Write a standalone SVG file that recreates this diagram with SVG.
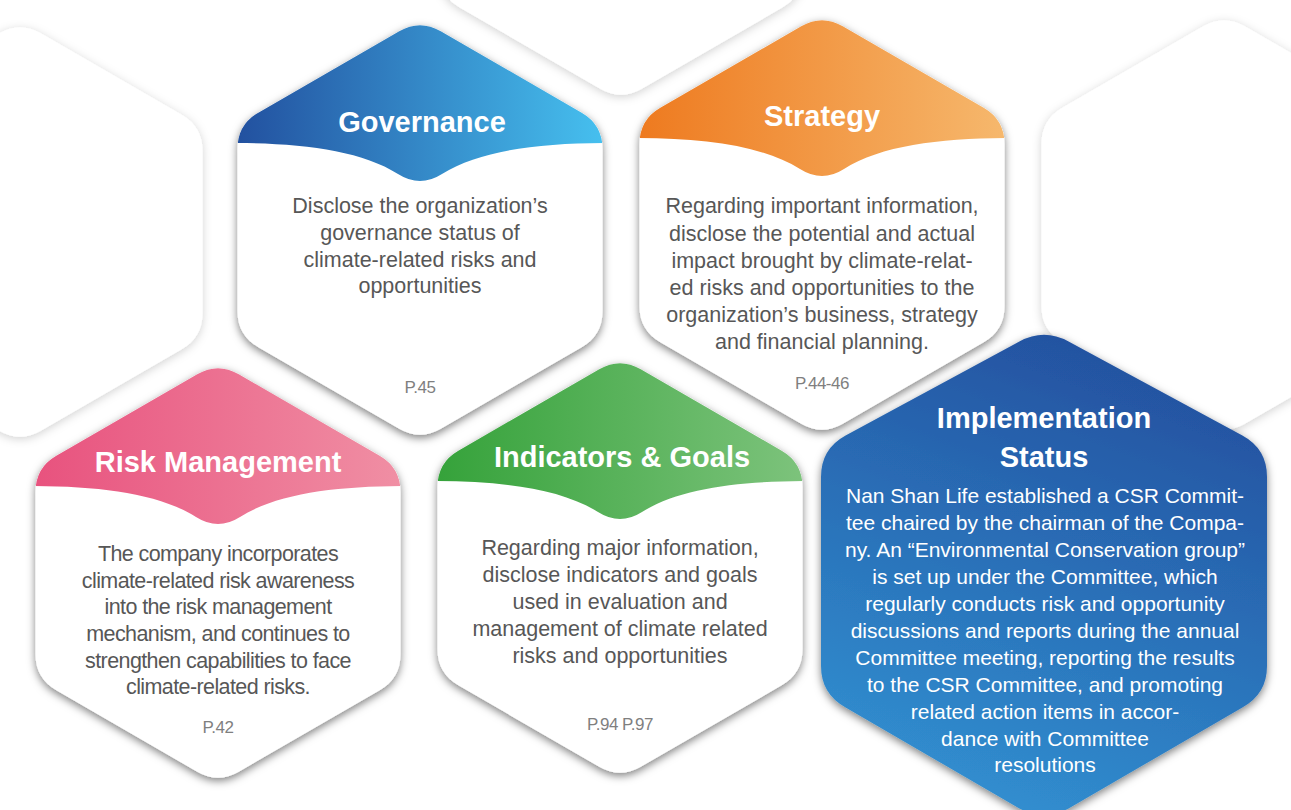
<svg xmlns="http://www.w3.org/2000/svg" xmlns:xlink="http://www.w3.org/1999/xlink" width="1291" height="810" viewBox="0 0 1291 810">
<defs>
<style>
.card{fill:#ffffff;filter:url(#sh);}
.bgcard{fill:#ffffff;filter:url(#shLight);}
.title{font-family:"Liberation Sans",Arial,sans-serif;font-weight:bold;font-size:29px;fill:#ffffff;text-anchor:middle;}
.body{font-family:"Liberation Sans",Arial,sans-serif;font-size:21.5px;fill:#575757;text-anchor:middle;}
.page{font-family:"Liberation Sans",Arial,sans-serif;font-size:17px;fill:#7f7f7f;text-anchor:middle;letter-spacing:-0.5px;}
.wbody{font-family:"Liberation Sans",Arial,sans-serif;font-size:21px;fill:#ffffff;text-anchor:middle;}
</style>
<filter id="sh" x="-20%" y="-20%" width="140%" height="140%">
<feDropShadow dx="0" dy="3" stdDeviation="4.5" flood-color="#000000" flood-opacity="0.5"/>
</filter>
<filter id="shLight" x="-20%" y="-20%" width="140%" height="140%">
<feDropShadow dx="0" dy="2" stdDeviation="5" flood-color="#000000" flood-opacity="0.18"/>
</filter>
<path id="hex" d="M20.8,-198.7 L161.7,-117.35 Q182.5,-105.35 182.5,-81.35 L182.5,81.35 Q182.5,105.35 161.7,117.35 L20.8,198.7 Q0,210.7 -20.8,198.7 L-161.7,117.35 Q-182.5,105.35 -182.5,81.35 L-182.5,-81.35 Q-182.5,-105.35 -161.7,-117.35 L-20.8,-198.7 Q0,-210.7 20.8,-198.7 Z"/>
<clipPath id="hexclip"><path d="M20.8,-198.7 L161.7,-117.35 Q182.5,-105.35 182.5,-81.35 L182.5,81.35 Q182.5,105.35 161.7,117.35 L20.8,198.7 Q0,210.7 -20.8,198.7 L-161.7,117.35 Q-182.5,105.35 -182.5,81.35 L-182.5,-81.35 Q-182.5,-105.35 -161.7,-117.35 L-20.8,-198.7 Q0,-210.7 20.8,-198.7 Z"/></clipPath>
<path id="hdr" d="M-200,-230 H200 V-87 H190 C120,-87 60,-80 22,-56 Q0,-42 -22,-56 C-60,-80 -120,-87 -190,-87 H-200 Z"/>
<linearGradient id="gGov" x1="0" y1="0" x2="1" y2="0"><stop offset="0.04" stop-color="#22509f"/><stop offset="0.96" stop-color="#46c0ef"/></linearGradient>
<linearGradient id="gStr" x1="0" y1="0" x2="1" y2="0"><stop offset="0.04" stop-color="#ee7a1f"/><stop offset="0.96" stop-color="#f6b86d"/></linearGradient>
<linearGradient id="gRisk" x1="0" y1="0" x2="1" y2="0"><stop offset="0.04" stop-color="#e8527e"/><stop offset="0.96" stop-color="#f08fa4"/></linearGradient>
<linearGradient id="gInd" x1="0" y1="0" x2="1" y2="0"><stop offset="0.04" stop-color="#35a23a"/><stop offset="0.96" stop-color="#7dc37c"/></linearGradient>
<linearGradient id="gImp" x1="0.7" y1="0" x2="0.35" y2="1"><stop offset="0" stop-color="#234f9e"/><stop offset="1" stop-color="#3190d1"/></linearGradient>
</defs>
<rect x="0" y="0" width="1291" height="810" fill="#ffffff"/>

<g id="background">
<use xlink:href="#hex" class="bgcard" transform="translate(20,232)"/>
<use xlink:href="#hex" class="bgcard" transform="translate(621,-110)"/>
<use xlink:href="#hex" class="bgcard" transform="translate(1224,225)"/>
</g>

<g id="connectors"/>

<g id="governance" transform="translate(420,230)">
<use xlink:href="#hex" class="card"/>
<use xlink:href="#hdr" fill="url(#gGov)" clip-path="url(#hexclip)"/>
<text class="title" x="2" y="-98">Governance</text>
<text class="body" x="0" y="-17">Disclose the organization’s</text>
<text class="body" x="0" y="10">governance status of</text>
<text class="body" x="0" y="37">climate-related risks and</text>
<text class="body" x="0" y="63">opportunities</text>
<text class="page" x="0" y="163">P.45</text>
</g>

<g id="strategy" transform="translate(822,225)">
<use xlink:href="#hex" class="card"/>
<use xlink:href="#hdr" fill="url(#gStr)" clip-path="url(#hexclip)"/>
<text class="title" x="0" y="-99">Strategy</text>
<text class="body" x="0" y="-12">Regarding important information,</text>
<text class="body" x="0" y="15.5">disclose the potential and actual</text>
<text class="body" x="0" y="42.5">impact brought by climate-relat-</text>
<text class="body" x="0" y="69.5">ed risks and opportunities to the</text>
<text class="body" x="0" y="96.5">organization’s business, strategy</text>
<text class="body" x="0" y="123.5">and financial planning.</text>
<text class="page" x="0" y="164">P.44-46</text>
</g>

<g id="risk-management" transform="translate(218,573)">
<use xlink:href="#hex" class="card"/>
<use xlink:href="#hdr" fill="url(#gRisk)" clip-path="url(#hexclip)"/>
<text class="title" x="0" y="-101">Risk Management</text>
<g style="font-size:21px;letter-spacing:-0.6px">
<text class="body" x="0" y="-12">The company incorporates</text>
<text class="body" x="0" y="14.7">climate-related risk awareness</text>
<text class="body" x="0" y="41.3">into the risk management</text>
<text class="body" x="0" y="68">mechanism, and continues to</text>
<text class="body" x="0" y="94.7">strengthen capabilities to face</text>
<text class="body" x="0" y="121.3">climate-related risks.</text>
</g>
<text class="page" x="0" y="160">P.42</text>
</g>

<g id="indicators-goals" transform="translate(620,568)">
<use xlink:href="#hex" class="card"/>
<use xlink:href="#hdr" fill="url(#gInd)" clip-path="url(#hexclip)"/>
<text class="title" x="2" y="-101">Indicators &amp; Goals</text>
<g style="font-size:22px">
<text class="body" x="0" y="-13">Regarding major information,</text>
<text class="body" x="0" y="14">disclose indicators and goals</text>
<text class="body" x="0" y="41">used in evaluation and</text>
<text class="body" x="0" y="68">management of climate related</text>
<text class="body" x="0" y="95">risks and opportunities</text>
</g>
<text class="page" x="0" y="162">P.94 P.97</text>
</g>

<g id="implementation-status">
<path fill="url(#gImp)" filter="url(#sh)" d="M1068.6,341.4 L1242.4,435.6 Q1267,449 1267,477 L1267,666 Q1267,694 1242.4,707.4 L1068.6,808.6 Q1044,822 1019.4,808.6 L845.6,707.4 Q821,694 821,666 L821,477 Q821,449 845.6,435.6 L1019.4,341.4 Q1044,328 1068.6,341.4 Z"/>
<text class="title" x="1044" y="428">Implementation</text>
<text class="title" x="1044" y="467">Status</text>
<text class="wbody" x="1045" y="503">Nan Shan Life established a CSR Commit-</text>
<text class="wbody" x="1045" y="530">tee chaired by the chairman of the Compa-</text>
<text class="wbody" x="1045" y="557">ny. An “Environmental Conservation group”</text>
<text class="wbody" x="1045" y="584">is set up under the Committee, which</text>
<text class="wbody" x="1045" y="611">regularly conducts risk and opportunity</text>
<text class="wbody" x="1045" y="638">discussions and reports during the annual</text>
<text class="wbody" x="1045" y="665">Committee meeting, reporting the results</text>
<text class="wbody" x="1045" y="692">to the CSR Committee, and promoting</text>
<text class="wbody" x="1045" y="719">related action items in accor-</text>
<text class="wbody" x="1045" y="746">dance with Committee</text>
<text class="wbody" x="1045" y="772">resolutions</text>
</g>
</svg>
